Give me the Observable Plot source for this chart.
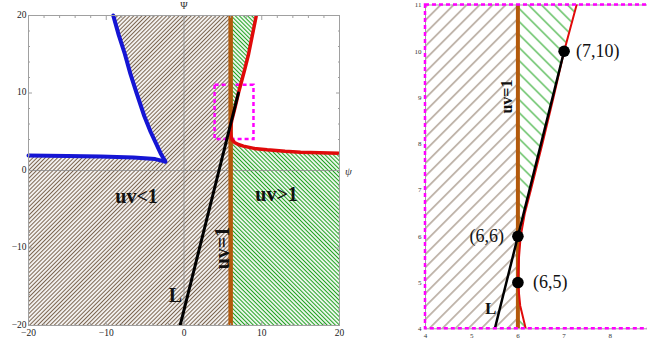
<!DOCTYPE html>
<html><head><meta charset="utf-8">
<script src="https://cdn.jsdelivr.net/npm/d3@7"></script>
<script src="https://cdn.jsdelivr.net/npm/@observablehq/plot@0.6"></script>
<style>
body{margin:0;background:#fff;overflow:hidden}
#wrap{position:relative;width:647px;height:343px;overflow:hidden;background:#fff}
#left,#right{position:absolute;top:0}
#left{left:0}
#right{left:400px}
</style></head><body><div id="wrap"><div id="left"></div><div id="right"></div></div>
<script>
// ---------- data ----------
const uvOne = 6;                       // uv = 1 boundary (psi value)
const leftDomain = [-20, 20];
const rightXDomain = [4, 8.805];
const rightYDomain = [4, 11];
const brownRegion = [{x1: -20, x2: 6, y1: -20, y2: 20}];   // uv<1 side
const zoomBox = [{x1: 4, x2: 9, y1: 4, y2: 11}];
const blueLower = [
  {x: -20, y: 1.92}, {x: -15, y: 1.86}, {x: -10.7, y: 1.8}, {x: -6.5, y: 1.68},
  {x: -3.7, y: 1.47}, {x: -2.4, y: 1.15}
];
const blueUpper = [
  {x: -2.4, y: 1.15}, {x: -3.0, y: 2.2}, {x: -3.6, y: 3.5}, {x: -4.3, y: 5},
  {x: -5.1, y: 7}, {x: -6.1, y: 10}, {x: -6.9, y: 12.5}, {x: -7.6, y: 15},
  {x: -8.4, y: 17.5}, {x: -9.1, y: 20}
];
const whiteCorner = [{x: -20, y: 20}];
const redLower = [   // ascending y
  {x: 20, y: 2.24}, {x: 15, y: 2.37}, {x: 13, y: 2.48}, {x: 10.7, y: 2.67},
  {x: 9, y: 2.85}, {x: 7.65, y: 3.15}, {x: 7, y: 3.35}, {x: 6.5, y: 3.62},
  {x: 6.17, y: 4}, {x: 6.05, y: 4.5}
];
const redUpper = [
  {x: 6, y: 5}, {x: 6.02, y: 5.5}, {x: 6.06, y: 6}, {x: 6.15, y: 6.5},
  {x: 6.28, y: 7}, {x: 6.53, y: 8}, {x: 6.77, y: 9}, {x: 7, y: 10},
  {x: 7.27, y: 11}, {x: 7.8, y: 13}, {x: 8.3, y: 15}, {x: 8.8, y: 17.5}, {x: 9.3, y: 20}
];
const greenFloor = [{x: 20, y: -20}];
const lineL = [{x: -0.5, y: -20}, {x: 7, y: 10}];
const points = [
  {x: 7, y: 10, label: "(7,10)"},
  {x: 6, y: 6, label: "(6,6)"},
  {x: 6, y: 5, label: "(6,5)"}
];
const leftTicks = [-20, -10, 0, 10, 20];
const leftMinor = [-18,-16,-14,-12,-8,-6,-4,-2,2,4,6,8,12,14,16,18];
const rightXTicks = [4, 5, 6, 7, 8];
const rightYTicks = [4, 5, 6, 7, 8, 9, 10, 11];
const leftLabels = [
  {x: -6.1, y: -3.4, text: "uv<1"},
  {x: 11.9, y: -3.1, text: "uv>1"}
];
const uvOneLabelLeft = [{x: 4.95, y: -10, text: "uv=1"}];
const uvOneLabelRight = [{x: 5.76, y: 9.02, text: "uv=1"}];
const lLabelLeft = [{x: -1.1, y: -16.2, text: "L"}];
const lLabelRight = [{x: 5.41, y: 4.44, text: "L"}];
const axisTitleY = [{x: 0, y: 20, text: "Ψ"}];
const axisTitleX = [{x: 20, y: 0, text: "ψ"}];

// derived tables
const whiteRegion = [...blueLower, ...blueUpper.slice(1), ...whiteCorner];
const greenBoundary = [...greenFloor, ...redLower, ...redUpper];
const redCurve = [...redLower, ...redUpper];

// ---------- style ----------
const serif = "'Liberation Serif','Times New Roman',serif";
const C = {brown: "#b35a0c", blue: "#1515d4", red: "#e00a0a", magenta: "#ff00ff", frame: "#a0a0a0"};

function addPatterns(svg, id, s, w, brownCol, greenCol) {
  const defs = document.createElementNS("http://www.w3.org/2000/svg", "defs");
  defs.innerHTML =
    `<pattern id="${id}b" patternUnits="userSpaceOnUse" width="${s}" height="${s}" patternTransform="rotate(45)">` +
    `<rect width="${s}" height="${s}" fill="white"/><line x1="${s/2}" y1="0" x2="${s/2}" y2="${s}" stroke="${brownCol}" stroke-width="${w}"/></pattern>` +
    `<pattern id="${id}g" patternUnits="userSpaceOnUse" width="${s}" height="${s}" patternTransform="rotate(-45)">` +
    `<rect width="${s}" height="${s}" fill="white"/><line x1="${s/2}" y1="0" x2="${s/2}" y2="${s}" stroke="${greenCol}" stroke-width="${w}"/></pattern>`;
  svg.insertBefore(defs, svg.firstChild);
}

function frameTicks(ticks, len, color) {
  const o = {ticks, tickSize: len, tickFormat: () => "", label: null, stroke: color};
  return [
    Plot.axisX({...o, anchor: "bottom", dy: -len}),
    Plot.axisX({...o, anchor: "top", dy: len}),
    Plot.axisY({...o, anchor: "left", dx: len}),
    Plot.axisY({...o, anchor: "right", dx: -len})
  ];
}

// ---------- left panel ----------
const left = Plot.plot({
  width: 360, height: 343,
  marginLeft: 28, marginRight: 21, marginTop: 15, marginBottom: 18,
  x: {domain: leftDomain},
  y: {domain: leftDomain},
  style: {fontFamily: serif, background: "white", color: "#222", overflow: "visible"},
  marks: [
    Plot.rect(brownRegion, {x1: "x1", x2: "x2", y1: "y1", y2: "y2", fill: "url(#Lb)"}),
    Plot.line(whiteRegion, {x: "x", y: "y", fill: "white", stroke: "none"}),
    Plot.areaX(greenBoundary, {y: "y", x1: uvOne, x2: "x", fill: "url(#Lg)", clip: true}),
    Plot.ruleX([0], {stroke: "#8a8a8a", strokeWidth: 0.8}),
    Plot.ruleY([0], {stroke: "#8a8a8a", strokeWidth: 0.8}),
    Plot.rect(zoomBox, {x1: "x1", x2: "x2", y1: "y1", y2: "y2", fill: "none", stroke: C.magenta, strokeWidth: 2.5, strokeDasharray: "4,3"}),
    Plot.ruleX([uvOne], {stroke: C.brown, strokeWidth: 4.5}),
    Plot.line(blueLower, {x: "x", y: "y", stroke: C.blue, strokeWidth: 4}),
    Plot.line(blueUpper, {x: "x", y: "y", stroke: C.blue, strokeWidth: 4}),
    Plot.line(redCurve, {x: "x", y: "y", stroke: C.red, strokeWidth: 3.5, clip: true}),
    Plot.line(lineL, {x: "x", y: "y", stroke: "black", strokeWidth: 3, clip: true}),
    Plot.text(leftLabels, {x: "x", y: "y", text: "text", fontSize: 20, fontWeight: "bold", fill: "#111"}),
    Plot.text(uvOneLabelLeft, {x: "x", y: "y", text: "text", fontSize: 20, fontWeight: "bold", rotate: -90, fill: "#111"}),
    Plot.text(lLabelLeft, {x: "x", y: "y", text: "text", fontSize: 20, fontWeight: "bold", fill: "#111"}),
    Plot.text(axisTitleY, {x: "x", y: "y", text: "text", dy: -10, fontSize: 10, fill: "#333"}),
    Plot.text(axisTitleX, {x: "x", y: "y", text: "text", dx: 9, dy: 1, fontSize: 11, fontStyle: "italic", fill: "#333"}),
    Plot.frame({stroke: C.frame}),
    ...frameTicks(leftTicks, 4, C.frame),
    ...frameTicks(leftMinor, 2, C.frame),
    Plot.axisX({anchor: "bottom", ticks: leftTicks, tickSize: 0, tickPadding: 4, fontSize: 9.5, label: null}),
    Plot.axisY({anchor: "left", ticks: leftTicks, tickSize: 0, tickPadding: 2, fontSize: 9.5, label: null, dy: -1})
  ]
});
addPatterns(left, "L", 2.9, 1.15, "#7b6550", "#22a222");
document.getElementById("left").appendChild(left);

// ---------- right panel ----------
const right = Plot.plot({
  width: 247, height: 343,
  marginLeft: 25, marginRight: 0, marginTop: 4.5, marginBottom: 14.7,
  x: {domain: rightXDomain},
  y: {domain: rightYDomain},
  style: {fontFamily: serif, background: "white", color: "#333"},
  marks: [
    Plot.rect(brownRegion, {x1: "x1", x2: "x2", y1: "y1", y2: "y2", fill: "url(#Rb)", clip: true}),
    Plot.areaX(greenBoundary, {y: "y", x1: uvOne, x2: "x", fill: "url(#Rg)", clip: true}),
    Plot.frame({stroke: C.frame}),
    Plot.ruleX([uvOne], {stroke: C.brown, strokeWidth: 4}),
    Plot.line(redCurve, {x: "x", y: "y", stroke: C.red, strokeWidth: 2, clip: true}),
    Plot.line(lineL, {x: "x", y: "y", stroke: "black", strokeWidth: 2.5, clip: true}),
    Plot.rect(zoomBox, {x1: "x1", x2: "x2", y1: "y1", y2: "y2", fill: "none", stroke: C.magenta, strokeWidth: 2.5, strokeDasharray: "4,3"}),
    Plot.dot(points, {x: "x", y: "y", r: 5.8, fill: "black"}),
    Plot.text(points.slice(0, 1), {x: "x", y: "y", text: "label", textAnchor: "start", dx: 12, fontSize: 18, fill: "#111"}),
    Plot.text(points.slice(1, 2), {x: "x", y: "y", text: "label", textAnchor: "end", dx: -14, fontSize: 18, fill: "#111"}),
    Plot.text(points.slice(2, 3), {x: "x", y: "y", text: "label", textAnchor: "start", dx: 15, fontSize: 18, fill: "#111"}),
    Plot.text(uvOneLabelRight, {x: "x", y: "y", text: "text", fontSize: 16, fontWeight: "bold", rotate: -90, fill: "#111"}),
    Plot.text(lLabelRight, {x: "x", y: "y", text: "text", fontSize: 17, fontWeight: "bold", fill: "#111"}),
    Plot.axisX({anchor: "bottom", ticks: rightXTicks, tickFormat: "d", tickSize: 0, tickPadding: 4, fontSize: 7, label: null}),
    Plot.axisY({anchor: "left", ticks: rightYTicks, tickFormat: "d", tickSize: 0, tickPadding: 4, fontSize: 7, label: null})
  ]
});
addPatterns(right, "R", 9.2, 1, "#8c7866", "#1fa51f");
document.getElementById("right").appendChild(right);
</script>
</body></html>
